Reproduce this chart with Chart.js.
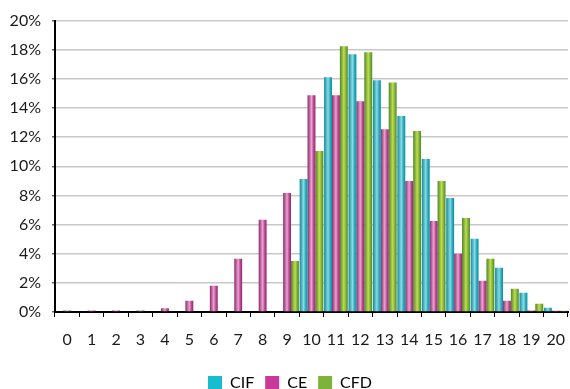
<!DOCTYPE html>
<html>
<head>
<meta charset="utf-8">
<script src="https://cdn.jsdelivr.net/npm/chart.js@4"></script>
<style>
  html, body { margin: 0; padding: 0; background: #fff; }
  #wrap { width: 570px; height: 389px; position: relative; }
</style>
</head>
<body>
<div id="wrap"><canvas id="c"></canvas></div>
<script>
const labels = ['0','1','2','3','4','5','6','7','8','9','10','11','12','13','14','15','16','17','18','19','20'];
const cif = [0,0,0,0,0,0,0,0,0,0,9.13,16.12,17.69,15.9,13.45,10.5,7.83,5.02,3.03,1.32,0.3];
const ce  = [0.1,0.1,0.1,0.1,0.25,0.78,1.8,3.65,6.33,8.17,14.88,14.88,14.47,12.55,8.99,6.25,4.0,2.14,0.77,0.1,0.08];
const cfd = [0,0,0,0,0,0,0,0,0.05,3.5,11.05,18.24,17.83,15.76,12.42,8.99,6.46,3.65,1.6,0.57,0.08];
const yTicks = [0,2,4,6,8,10,12,14,16,18,20];

const CAT_PCT = 0.97;
const legendCols = ['#17bccf', '#c8399a', '#7db33a'];
const FONT = 'Lato';

// cylinder-ish shading like the Excel bars
function barFill(ds, dark, light, flat) {
  return ctx => {
    const c = ctx.chart, xs = c.scales.x;
    if (!xs || !c.chartArea || ctx.type !== 'data') return flat;
    const catW = (xs.right - xs.left) / labels.length;
    const barW = catW * CAT_PCT / 3;
    const cx = xs.getPixelForValue(ctx.dataIndex) + (ds - 1) * barW;
    const x0 = cx - barW / 2;
    const g = c.ctx.createLinearGradient(x0, 0, x0 + barW, 0);
    g.addColorStop(0, dark);
    g.addColorStop(0.5, light);
    g.addColorStop(0.75, flat);
    g.addColorStop(1, dark);
    return g;
  };
}

// push the legend down close to the bottom edge like the original
const nudgeLegend = {
  id: 'nudgeLegend',
  afterLayout(chart) {
    const l = chart.legend;
    if (!l) return;
    l.top += 12; l.bottom += 12;
    l.left += 6; l.right += 6;
  }
};

new Chart(document.getElementById('c'), {
  type: 'bar',
  data: {
    labels: labels,
    datasets: [
      { label: 'CIF', data: cif, backgroundColor: barFill(0, '#0c8c9c', '#8fd8e2', '#2ab0c2') },
      { label: 'CE',  data: ce,  backgroundColor: barFill(1, '#8a2a6c', '#eaa3d0', '#c04a98') },
      { label: 'CFD', data: cfd, backgroundColor: barFill(2, '#4a872a', '#c2dc4e', '#82b43a') }
    ]
  },
  plugins: [nudgeLegend],
  options: {
    responsive: true, maintainAspectRatio: false, animation: false,
    datasets: { bar: { categoryPercentage: CAT_PCT, barPercentage: 1, borderWidth: 0 } },
    layout: { padding: { top: 10, right: 2, left: 0, bottom: 0 } },
    plugins: {
      tooltip: { enabled: false },
      legend: {
        position: 'bottom',
        labels: {
          font: { family: FONT, size: 16 }, color: '#1a1a1a',
          boxWidth: 14, boxHeight: 14, padding: 11,
          generateLabels: chart => chart.data.datasets.map((d, i) => ({
            text: d.label, fillStyle: legendCols[i], strokeStyle: legendCols[i],
            lineWidth: 0, datasetIndex: i, hidden: false
          }))
        }
      }
    },
    scales: {
      x: {
        grid: { offset: true, drawOnChartArea: false, color: '#000', tickLength: 5, lineWidth: 1 },
        border: { color: '#000', width: 2 },
        ticks: { font: { family: FONT, size: 16 }, color: '#1a1a1a', padding: 13, maxRotation: 0, autoSkip: false },
        afterFit: s => { s.height = 40; s.paddingLeft = 0; s.paddingRight = 0; }
      },
      y: {
        min: 0, max: 20,
        afterBuildTicks: s => { s.ticks = yTicks.map(v => ({ value: v })); },
        grid: { color: '#c8c8c8', lineWidth: 1.5, tickLength: 3, tickColor: '#666' },
        border: { color: '#000', width: 2 },
        ticks: { font: { family: FONT, size: 16 }, color: '#1a1a1a', padding: 11, callback: v => v + '%' },
        afterFit: s => { s.width = 55; }
      }
    }
  }
});
</script>
</body>
</html>
